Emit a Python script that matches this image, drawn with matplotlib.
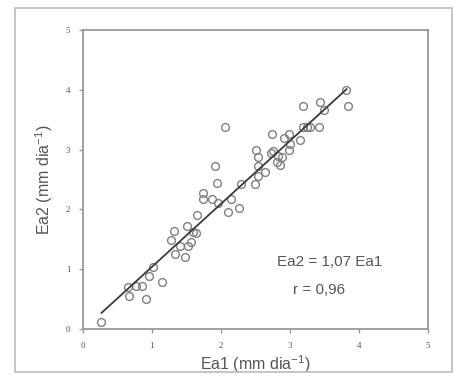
import matplotlib
matplotlib.use("Agg")
import matplotlib.pyplot as plt
from matplotlib.patches import Rectangle

ea1 = [0.26, 0.66, 0.67, 0.77, 0.85, 0.91, 0.96, 1.02, 1.14, 1.27, 1.32, 1.34, 1.40, 1.48,
       1.51, 1.52, 1.57, 1.59, 1.64, 1.66, 1.74, 1.74, 1.87, 1.91, 1.95, 1.96, 2.06, 2.10,
       2.14, 2.26, 2.29, 2.49, 2.51, 2.53, 2.53, 2.54, 2.64, 2.74, 2.72, 2.75, 2.81, 2.83,
       2.86, 2.88, 2.91, 2.98, 2.99, 3.00, 3.15, 3.19, 3.19, 3.25, 3.29, 3.42, 3.43, 3.49,
       3.81, 3.84]
ea2 = [0.11, 0.71, 0.55, 0.72, 0.72, 0.50, 0.89, 1.03, 0.79, 1.49, 1.64, 1.25, 1.39, 1.20,
       1.73, 1.39, 1.45, 1.63, 1.60, 1.90, 2.28, 2.17, 2.17, 2.73, 2.44, 2.10, 3.37, 1.96,
       2.17, 2.03, 2.42, 2.42, 2.99, 2.87, 2.56, 2.73, 2.63, 3.26, 2.94, 2.97, 2.80, 2.89,
       2.74, 2.88, 3.20, 3.26, 2.99, 3.10, 3.16, 3.73, 3.38, 3.38, 3.38, 3.38, 3.80, 3.66,
       3.99, 3.73]
fit_x = [0.27, 3.82]
fit_y = [0.27, 4.01]
ticks = [0, 1, 2, 3, 4, 5]

fig = plt.figure(figsize=(4.56, 3.83), dpi=100)
fig.patches.append(Rectangle((15/456, 1-372/383), (452-15)/456, (372-8)/383,
                             transform=fig.transFigure, fill=False,
                             edgecolor="#bbbbbb", linewidth=1.2))
ax = fig.add_axes([82.9/456, 1-329/383, (428-82.9)/456, (329-30)/383])
ax.plot(ea1, ea2, linestyle="none", marker="o", markersize=5.6,
        markerfacecolor="none", markeredgecolor="#808080", markeredgewidth=1.0)
ax.plot(fit_x, fit_y, color="#3a3a3a", linewidth=1.3)
ax.set_xlim(0, 5)
ax.set_ylim(0, 5)
ax.set_xticks(ticks)
ax.set_yticks(ticks)
ax.set_xticklabels([str(t) for t in ticks], family="Liberation Serif", fontsize=6.5, color="#555555")
ax.set_yticklabels([str(t) for t in ticks], family="Liberation Serif", fontsize=6.5, color="#555555")
for s in ax.spines.values():
    s.set_color("#999999")
    s.set_linewidth(1.3)
ax.tick_params(direction="out", length=3, width=1, color="#999999", pad=6)
ax.set_xlabel("Ea1 (mm dia$^{\\mathregular{-1}}$)", family="Liberation Sans", fontsize=11.5,
              color="#555555", labelpad=3)
ax.set_ylabel("Ea2 (mm dia$^{\\mathregular{-1}}$)", family="Liberation Sans", fontsize=11.5,
              color="#555555", labelpad=8)
ax.text(3.57, 1.12, "Ea2 = 1,07 Ea1", family="Liberation Sans", fontsize=11,
        color="#555555", ha="center", va="center")
ax.text(3.42, 0.65, "r = 0,96", family="Liberation Sans", fontsize=11,
        color="#555555", ha="center", va="center")
fig.savefig("out.png", dpi=100)
